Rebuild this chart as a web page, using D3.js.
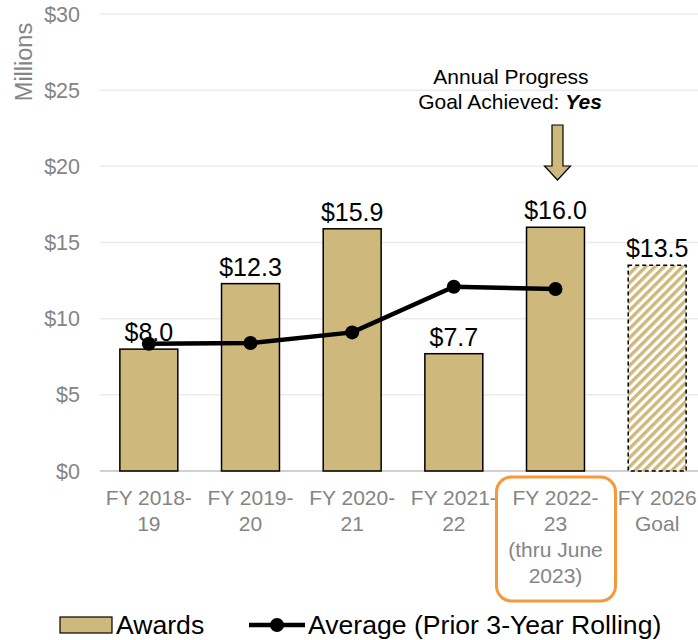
<!DOCTYPE html>
<html>
<head>
<meta charset="utf-8">
<style>
  body { margin: 0; background: #fff; }
  svg { font-family: "Liberation Sans", Arial, sans-serif; }
</style>
</head>
<body>
<svg width="698" height="640"></svg>
<script src="https://d3js.org/d3.v7.min.js"></script>
<script>

var categories = [
  ["FY 2018-", "19"],
  ["FY 2019-", "20"],
  ["FY 2020-", "21"],
  ["FY 2021-", "22"],
  ["FY 2022-", "23", "(thru June", "2023)"],
  ["FY 2026", "Goal"]
];
var awards = [8.0, 12.3, 15.9, 7.7, 16.0, 13.5];
var average = [8.35, 8.4, 9.1, 12.1, 11.95];
var yTicks = [0, 5, 10, 15, 20, 25, 30];

var svg = d3.select("svg"),
    gold = "#cfb87c",
    grey = "#858585";

var x = d3.scaleBand()
    .domain(d3.range(categories.length))
    .range([98, 708])
    .paddingInner(0.43)
    .paddingOuter(0.215);

var y = d3.scaleLinear().domain([0, 30]).range([471, 14]);

function cx(i) { return x(i) + x.bandwidth() / 2; }

// hatch pattern for the goal bar
var defs = svg.append("defs");
var pat = defs.append("pattern")
    .attr("id", "hatch")
    .attr("patternUnits", "userSpaceOnUse")
    .attr("width", 6.5).attr("height", 6.5)
    .attr("patternTransform", "rotate(45)");
pat.append("rect").attr("width", 6.5).attr("height", 6.5).attr("fill", "#fff");
pat.append("rect").attr("x", 0).attr("width", 3.4).attr("height", 6.5).attr("fill", gold);

// gridlines
svg.append("g").selectAll("line")
  .data(yTicks)
  .join("line")
    .attr("x1", 100).attr("x2", 698)
    .attr("y1", function(d) { return y(d); })
    .attr("y2", function(d) { return y(d); })
    .attr("stroke", function(d) { return d === 0 ? "#d0d0d0" : "#ececec"; })
    .attr("stroke-width", function(d) { return d === 0 ? 2 : 1.5; });

// y axis labels
svg.append("g").selectAll("text")
  .data(yTicks)
  .join("text")
    .attr("x", 80)
    .attr("y", function(d) { return y(d); })
    .attr("dy", "0.35em")
    .attr("text-anchor", "end")
    .attr("fill", grey)
    .attr("font-size", 21.5)
    .text(function(d) { return "$" + d; });

svg.append("text")
    .attr("transform", "translate(32,62) rotate(-90)")
    .attr("text-anchor", "middle")
    .attr("fill", grey)
    .attr("font-size", 23.5)
    .text("Millions");

// bars
svg.append("g").selectAll("rect")
  .data(awards)
  .join("rect")
    .attr("x", function(d, i) { return x(i); })
    .attr("width", x.bandwidth())
    .attr("y", function(d) { return y(d); })
    .attr("height", function(d) { return y(0) - y(d); })
    .attr("fill", function(d, i) { return i === awards.length - 1 ? "url(#hatch)" : gold; })
    .attr("stroke", "#000")
    .attr("stroke-width", 1.5)
    .attr("stroke-dasharray", function(d, i) { return i === awards.length - 1 ? "4,3" : null; });

// bar value labels
svg.append("g").selectAll("text")
  .data(awards)
  .join("text")
    .attr("x", function(d, i) { return cx(i); })
    .attr("y", function(d) { return y(d) - 8; })
    .attr("text-anchor", "middle")
    .attr("font-size", 25)
    .attr("fill", "#000")
    .text(function(d) { return "$" + d.toFixed(1); });

// rolling average line
var line = d3.line()
    .x(function(d, i) { return cx(i); })
    .y(function(d) { return y(d); });

svg.append("path")
    .datum(average)
    .attr("d", line)
    .attr("fill", "none")
    .attr("stroke", "#000")
    .attr("stroke-width", 4.5);

svg.append("g").selectAll("circle")
  .data(average)
  .join("circle")
    .attr("cx", function(d, i) { return cx(i); })
    .attr("cy", function(d) { return y(d); })
    .attr("r", 7)
    .attr("fill", "#000");

// category labels
var cat = svg.append("g").selectAll("text")
  .data(categories)
  .join("text")
    .attr("x", function(d, i) { return cx(i); })
    .attr("y", 505)
    .attr("text-anchor", "middle")
    .attr("fill", grey)
    .attr("font-size", 21);
cat.selectAll("tspan")
  .data(function(d, i) { return d.map(function(t) { return {t: t, i: i}; }); })
  .join("tspan")
    .attr("x", function(d) { return cx(d.i); })
    .attr("dy", function(d, j) { return j === 0 ? 0 : 26; })
    .text(function(d) { return d.t; });

// highlight box around current year
var hx = cx(4);
svg.append("rect")
    .attr("x", hx - 59).attr("y", 477)
    .attr("width", 119).attr("height", 124)
    .attr("rx", 15)
    .attr("fill", "none")
    .attr("stroke", "#f7993a")
    .attr("stroke-width", 3);

// annotation
svg.append("text")
    .attr("x", 511).attr("y", 84)
    .attr("text-anchor", "middle")
    .attr("font-size", 21)
    .text("Annual Progress");
var t2 = svg.append("text")
    .attr("x", 510).attr("y", 109)
    .attr("text-anchor", "middle")
    .attr("font-size", 21);
t2.append("tspan").text("Goal Achieved: ");
t2.append("tspan").attr("font-weight", "bold").attr("font-style", "italic").text("Yes");

var ax = hx + 2;
svg.append("path")
    .attr("d", "M" + (ax - 5.5) + ",125 L" + (ax + 5.5) + ",125 L" + (ax + 5.5) + ",166 L" + (ax + 13) + ",166 L" + ax + ",180 L" + (ax - 13) + ",166 L" + (ax - 5.5) + ",166 Z")
    .attr("fill", gold)
    .attr("stroke", "#000")
    .attr("stroke-width", 1.2);

// legend
var lg = svg.append("g").attr("font-size", 26.6).attr("fill", "#000");
lg.append("rect")
    .attr("x", 60).attr("y", 617)
    .attr("width", 52).attr("height", 16)
    .attr("fill", gold).attr("stroke", "#000").attr("stroke-width", 1.2);
lg.append("text").attr("x", 116).attr("y", 634).text("Awards");
lg.append("line")
    .attr("x1", 249).attr("x2", 305)
    .attr("y1", 625).attr("y2", 625)
    .attr("stroke", "#000").attr("stroke-width", 4.5);
lg.append("circle").attr("cx", 277).attr("cy", 625).attr("r", 7).attr("fill", "#000");
lg.append("text").attr("x", 308).attr("y", 634).text("Average (Prior 3-Year Rolling)");

</script>
</body>
</html>
